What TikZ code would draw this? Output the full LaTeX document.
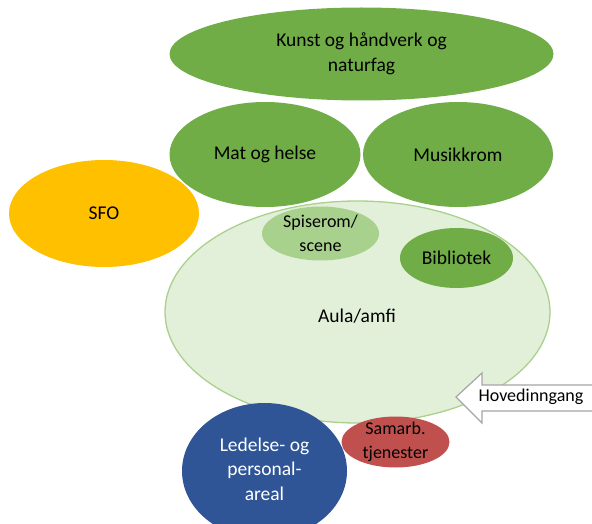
\documentclass[tikz,border=0pt]{standalone}
\usepackage{fontspec}
\setmainfont{Carlito}
\usetikzlibrary{shapes.geometric}
\definecolor{roomgreen}{HTML}{70AD47}
\definecolor{palegreen}{HTML}{A9D18E}
\definecolor{aulafill}{HTML}{E2F0D9}
\definecolor{sfoyellow}{HTML}{FFC000}
\definecolor{adminblue}{HTML}{2F5597}
\definecolor{coopred}{HTML}{C0504D}
\definecolor{arrowgray}{HTML}{A5A5A5}
\tikzset{
  room/.style={ellipse, draw=none, inner sep=0pt},
  bigtxt/.style={align=center, font=\fontsize{19.5}{24.5}\selectfont, text=black},
  smalltxt/.style={align=center, font=\fontsize{18}{23.5}\selectfont, text=black}
}
\begin{document}
\begin{tikzpicture}[x=1pt,y=-1pt]
\useasboundingbox (0,0) rectangle (592,524);

% central hall with the rooms placed in it
\node[room, draw=palegreen, line width=1.3pt, fill=aulafill,
      minimum width=385pt, minimum height=222pt] (aula) at (357.5,312) {};
\node[bigtxt] (aulatxt) at (357,316) {Aula/amfi};

\node[room, fill=palegreen, minimum width=117pt, minimum height=54pt] (spise) at (320.5,233.5) {};
\node[smalltxt] (spisetxt) at (spise) {Spiserom/\\scene};

\node[room, fill=roomgreen, minimum width=113pt, minimum height=60pt] (bib) at (456.5,258) {};
\node[bigtxt] (bibtxt) at (bib) {Bibliotek};

% specialist rooms along the top
\node[room, fill=roomgreen, minimum width=384pt, minimum height=93pt] (kunst) at (361.5,54) {};
\node[bigtxt] (kunsttxt) at (kunst) {Kunst og håndverk og\\naturfag};

\node[room, fill=roomgreen, minimum width=191pt, minimum height=105pt] (mat) at (265,154.5) {};
\node[bigtxt] (mattxt) at (mat) {Mat og helse};

\node[room, fill=roomgreen, minimum width=190pt, minimum height=105pt] (musikk) at (458,154.5) {};
\node[bigtxt] (musikktxt) at (musikk) {Musikkrom};

% after-school care
\node[room, fill=sfoyellow, minimum width=190pt, minimum height=107pt] (sfo) at (104,213.5) {};
\node[bigtxt] (sfotxt) at (sfo) {SFO};

% administration and cooperating services
\node[room, fill=adminblue, minimum width=165pt, minimum height=136pt] (ledelse) at (264.5,471) {};
\node[bigtxt, text=white] (ledelsetxt) at (264.5,469) {Ledelse- og\\personal-\\areal};

\node[room, fill=coopred, minimum width=108pt, minimum height=51pt] (samarb) at (395.5,442) {};
\node[smalltxt] (samarbtxt) at (samarb) {Samarb.\\tjenester};

% main entrance arrow
\draw[draw=arrowgray, fill=white, line width=1.2pt, line join=miter]
  (456,397) -- (482,373) -- (482,385) -- (600,385) -- (600,411)
  -- (482,411) -- (482,423) -- cycle;
\node[smalltxt] (hoved) at (531,397) {Hovedinngang};
\end{tikzpicture}
\end{document}
